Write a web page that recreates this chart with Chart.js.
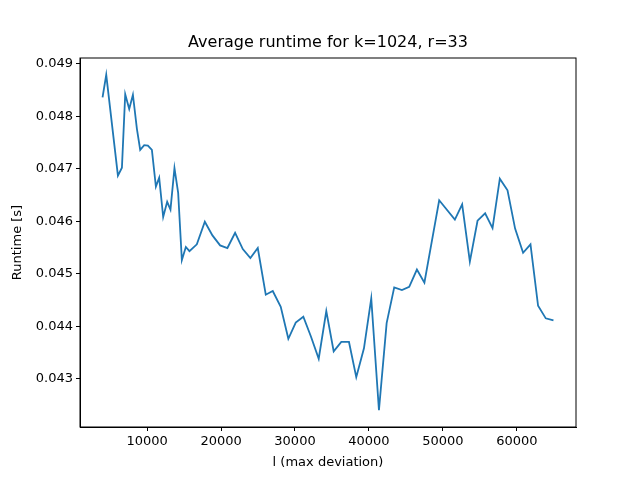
<!DOCTYPE html>
<html>
<head>
<script src="https://cdn.jsdelivr.net/npm/chart.js@4"></script>
<style>body{margin:0;background:#fff}</style>
</head>
<body>
<canvas id="c" width="640" height="480"></canvas>
<script>
const maxDeviation = [3972, 4472, 6052, 6593, 7039, 7580, 8079, 8619, 9065, 9606, 10105, 10646, 11186, 11632, 12173, 12713, 13159, 13699, 14199, 14699, 15239, 15726, 16725, 17806, 18833, 19873, 20859, 21900, 22940, 23967, 24966, 26047, 26993, 28073, 29100, 30100, 31127, 32167, 33208, 34234, 35234, 36261, 37301, 38287, 39327, 40314, 41354, 42395, 43421, 44462, 45448, 46488, 47502, 49501, 51622, 52608, 53649, 54689, 55716, 56716, 57702, 58743, 59769, 60850, 61850, 62876, 63916, 64956];
const runtime = [0.04836, 0.04879, 0.04687, 0.04702, 0.04842, 0.04814, 0.04841, 0.04776, 0.04736, 0.04745, 0.04744, 0.04736, 0.04666, 0.04683, 0.04608, 0.04637, 0.04622, 0.04701, 0.04654, 0.04526, 0.04551, 0.04543, 0.04556, 0.04599, 0.04573, 0.04554, 0.04549, 0.04578, 0.04547, 0.04530, 0.04549, 0.04460, 0.04467, 0.04437, 0.04376, 0.04407, 0.04418, 0.04380, 0.04338, 0.04429, 0.04352, 0.04370, 0.04370, 0.04303, 0.04358, 0.04453, 0.04240, 0.04406, 0.04474, 0.04469, 0.04475, 0.04508, 0.04483, 0.04640, 0.04603, 0.04632, 0.04523, 0.04601, 0.04615, 0.04587, 0.04681, 0.04659, 0.04586, 0.04540, 0.04556, 0.04439, 0.04415, 0.04411];
const xTicks = [10000, 20000, 30000, 40000, 50000, 60000];
const yTicks = [0.043, 0.044, 0.045, 0.046, 0.047, 0.048, 0.049];
const chartTitle = 'Average runtime for k=1024, r=33';

const font = { family: 'DejaVu Sans', size: 13 };

new Chart(document.getElementById('c'), {
  type: 'scatter',
  data: {
    datasets: [{
      data: maxDeviation.map((x, i) => ({ x: x, y: runtime[i] })),
      showLine: true,
      borderColor: '#1f77b4',
      borderWidth: 1.8,
      pointRadius: 0,
      tension: 0
    }]
  },
  options: {
    responsive: false,
    animation: false,
    layout: { padding: { left: 8, right: 64, top: 58, bottom: 8 } },
    plugins: {
      legend: { display: false },
      tooltip: { enabled: false },
      title: { display: false }
    },
    scales: {
      x: {
        type: 'linear',
        min: 923,
        max: 68005,
        afterBuildTicks: s => { s.ticks = xTicks.map(v => ({ value: v })); },
        afterFit: s => { s.height = 45; },
        grid: { drawOnChartArea: false, tickLength: 4, color: '#000' },
        border: { color: '#000', width: 1 },
        ticks: { color: '#000', font: font, maxRotation: 0, padding: 3, callback: v => String(v) },
        title: { display: true, text: 'l (max deviation)', color: '#000', font: font, padding: 2 }
      },
      y: {
        min: 0.04208,
        max: 0.04911,
        afterBuildTicks: s => { s.ticks = yTicks.map(v => ({ value: v })); },
        afterFit: s => { s.width = 72; },
        grid: { drawOnChartArea: false, tickLength: 4, color: '#000' },
        border: { color: '#000', width: 1 },
        ticks: { color: '#000', font: font, padding: 3, callback: v => v.toFixed(3) },
        title: { display: true, text: 'Runtime [s]', color: '#000', font: font, padding: 2 }
      }
    }
  },
  plugins: [{
    id: 'frame',
    afterDraw(chart) {
      const { ctx, chartArea: a } = chart;
      ctx.save();
      ctx.strokeStyle = '#000';
      ctx.lineWidth = 1;
      ctx.strokeRect(a.left, a.top, a.right - a.left, a.bottom - a.top);
      // title centred over the plot area
      ctx.fillStyle = '#000';
      ctx.font = '16px "DejaVu Sans"';
      ctx.textAlign = 'center';
      ctx.textBaseline = 'middle';
      ctx.fillText(chartTitle, (a.left + a.right) / 2, 43);
      ctx.restore();
    }
  }]
});
</script>
</body>
</html>
